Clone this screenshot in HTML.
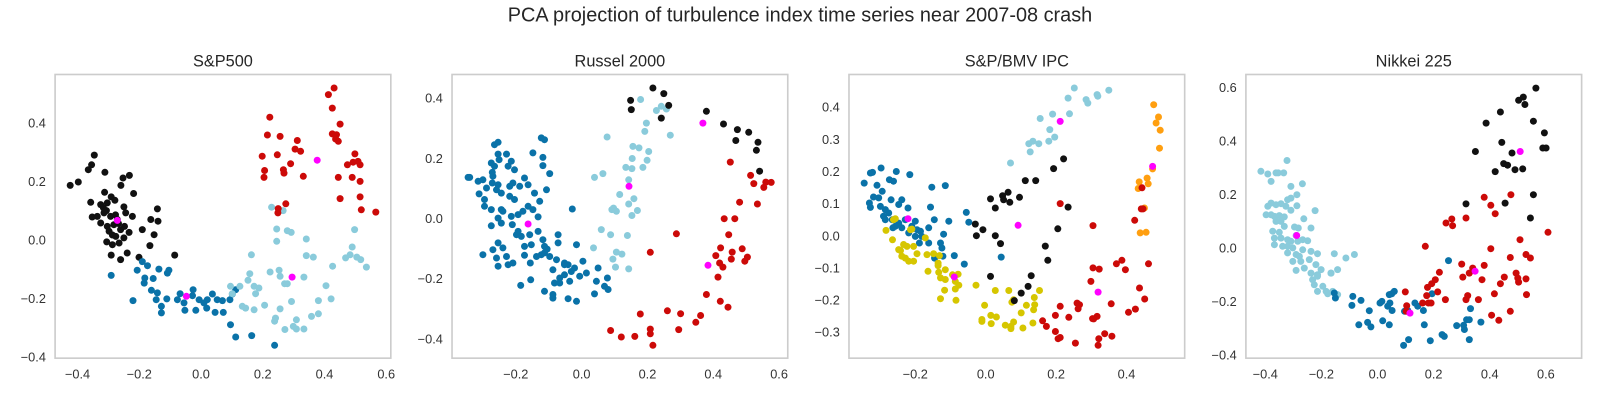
<!DOCTYPE html>
<html><head><meta charset="utf-8"><style>
html,body{margin:0;padding:0;background:#fff;}
svg{display:block;font-family:"Liberation Sans",sans-serif;}
</style></head><body>
<svg id="fig" width="1600" height="400" viewBox="0 0 1600 400" xmlns="http://www.w3.org/2000/svg">
<rect width="1600" height="400" fill="#fff"/>
<g id="layout" transform="scale(1.0204)">
<text x="784" y="21" font-size="19.5" fill="#262626" text-anchor="middle">PCA projection of turbulence index time series near 2007-08 crash</text>
</g>
</svg>
<script>
// ---- Panel titles and ticks ----
const panelTitles = ["S&P500", "Russel 2000", "S&P/BMV IPC", "Nikkei 225"];
const xTicks1 = [-0.4,-0.2,0.0,0.2,0.4,0.6];
const yTicks1 = [-0.4,-0.2,0.0,0.2,0.4];
const xTicks2 = [-0.2,0.0,0.2,0.4,0.6];
const yTicks2 = [-0.4,-0.2,0.0,0.2,0.4];
const xTicks3 = [-0.2,0.0,0.2,0.4];
const yTicks3 = [-0.3,-0.2,-0.1,0.0,0.1,0.2,0.3,0.4];
const xTicks4 = [-0.4,-0.2,0.0,0.2,0.4,0.6];
const yTicks4 = [-0.4,-0.2,0.0,0.2,0.4,0.6];

// ---- Panel 1: S&P500 ----
const p1Black = [[-0.42,0.173],[-0.393,0.185],[-0.36,0.228],[-0.349,0.245],[-0.34,0.279],[-0.305,0.219],[-0.245,0.199],[-0.224,0.208],[-0.252,0.173],[-0.21,0.145],[-0.306,0.149],[-0.284,0.133],[-0.272,0.121],[-0.352,0.114],[-0.319,0.106],[-0.297,0.112],[-0.242,0.098],[-0.347,0.063],[-0.33,0.065],[-0.308,0.077],[-0.286,0.065],[-0.264,0.054],[-0.236,0.077],[-0.214,0.065],[-0.319,0.042],[-0.297,0.03],[-0.275,0.036],[-0.253,0.019],[-0.225,0.009],[-0.291,0.013],[-0.269,-0.005],[-0.242,-0.01],[-0.258,-0.028],[-0.299,-0.024],[-0.28,-0.034],[-0.231,-0.063],[-0.253,-0.086],[-0.284,-0.07],[-0.181,0.019],[-0.153,0.054],[-0.156,-0.037],[-0.131,0.091],[-0.129,0.048],[-0.142,0.001],[-0.192,-0.078],[-0.074,-0.07],[-0.3,0.085],[-0.27,0.07],[-0.26,0.04],[-0.28,0.0],[-0.24,0.03],[-0.31,0.095]];
const p1DarkBlue = [[-0.284,-0.141],[-0.212,-0.229],[-0.198,-0.123],[-0.181,-0.093],[-0.164,-0.107],[-0.173,-0.15],[-0.175,-0.168],[-0.145,-0.152],[-0.126,-0.119],[-0.098,-0.133],[-0.093,-0.123],[-0.151,-0.193],[-0.131,-0.202],[-0.135,-0.226],[-0.1,-0.223],[-0.118,-0.249],[-0.118,-0.272],[-0.065,-0.226],[-0.056,-0.205],[-0.043,-0.237],[-0.013,-0.191],[-0.04,-0.263],[-0.004,-0.263],[0.007,-0.226],[0.023,-0.237],[0.032,-0.255],[0.051,-0.206],[0.067,-0.226],[0.084,-0.229],[0.06,-0.27],[0.087,-0.27],[0.109,-0.226],[0.128,-0.191],[0.111,-0.313],[0.128,-0.356],[0.181,-0.351],[0.257,-0.385],[0.117,-0.206],[0.034,-0.226],[-0.015,-0.212]];
const p1LightBlue = [[0.247,0.097],[0.285,0.085],[0.264,0.021],[0.299,0.015],[0.312,0.009],[0.264,-0.022],[0.362,-0.014],[0.362,-0.072],[0.385,-0.077],[0.522,0.019],[0.514,-0.042],[0.492,-0.08],[0.507,-0.069],[0.529,-0.077],[0.542,-0.086],[0.561,-0.112],[0.449,-0.109],[0.427,-0.177],[0.444,-0.223],[0.402,-0.229],[0.402,-0.275],[0.379,-0.284],[0.354,-0.328],[0.329,-0.328],[0.319,-0.319],[0.329,-0.296],[0.291,-0.33],[0.313,-0.232],[0.275,-0.258],[0.257,-0.301],[0.26,-0.29],[0.224,-0.245],[0.189,-0.261],[0.15,-0.249],[0.161,-0.255],[0.18,-0.069],[0.175,-0.135],[0.169,-0.158],[0.142,-0.179],[0.111,-0.179],[0.189,-0.179],[0.205,-0.185],[0.194,-0.205],[0.117,-0.205],[0.242,-0.129],[0.272,-0.123],[0.275,-0.144],[0.29,-0.17],[0.299,-0.17],[0.354,-0.147]];
const p1Red = [[0.454,0.513],[0.435,0.49],[0.448,0.443],[0.474,0.387],[0.448,0.353],[0.462,0.35],[0.459,0.335],[0.468,0.327],[0.241,0.411],[0.233,0.349],[0.275,0.344],[0.332,0.33],[0.325,0.3],[0.343,0.292],[0.266,0.28],[0.216,0.275],[0.224,0.225],[0.222,0.201],[0.286,0.228],[0.288,0.216],[0.31,0.249],[0.352,0.205],[0.523,0.283],[0.498,0.245],[0.517,0.254],[0.533,0.257],[0.54,0.245],[0.468,0.201],[0.514,0.201],[0.54,0.187],[0.474,0.127],[0.54,0.133],[0.544,0.088],[0.592,0.08],[0.294,0.109],[0.269,0.092],[0.268,0.077]];
const p1Centers = [[-0.264,0.051],[-0.035,-0.214],[0.315,-0.147],[0.398,0.261]];

// ---- Panel 2: Russel 2000 ----
const p2DarkBlue = [[-0.316,0.124],[-0.311,0.124],[-0.282,0.068],[-0.27,0.116],[-0.265,0.026],[-0.265,0.049],[-0.241,0.141],[-0.241,0.105],[-0.239,0.128],[-0.234,0.235],[-0.223,0.243],[-0.244,0.173],[-0.234,0.162],[-0.22,0.184],[-0.197,0.203],[-0.223,0.203],[-0.192,0.162],[-0.182,0.179],[-0.172,0.15],[-0.187,0.094],[-0.177,0.105],[-0.156,0.094],[-0.213,0.071],[-0.228,0.082],[-0.244,0.015],[-0.213,0.015],[-0.208,0.009],[-0.187,0.06],[-0.172,0.049],[-0.141,0.122],[-0.13,0.099],[-0.11,0.071],[-0.094,0.043],[-0.115,0.015],[-0.13,0.026],[-0.146,0.009],[-0.161,-0.002],[-0.182,-0.008],[-0.223,-0.014],[-0.244,-0.04],[-0.213,-0.031],[-0.179,-0.036],[-0.166,-0.07],[-0.151,-0.076],[-0.125,-0.07],[-0.099,-0.059],[-0.084,-0.087],[-0.079,-0.11],[-0.063,-0.144],[-0.042,-0.155],[-0.037,-0.098],[-0.037,-0.07],[-0.12,-0.104],[-0.141,-0.11],[-0.223,-0.098],[-0.239,-0.121],[-0.27,-0.138],[-0.208,-0.115],[-0.197,-0.144],[-0.228,-0.149],[-0.223,-0.177],[-0.192,-0.172],[-0.177,-0.166],[-0.141,-0.14],[-0.123,-0.166],[-0.104,-0.144],[-0.089,-0.138],[-0.017,-0.166],[-0.006,-0.172],[0.014,-0.183],[0.04,-0.16],[0.051,-0.2],[0.03,-0.211],[-0.001,-0.228],[-0.032,-0.217],[-0.048,-0.234],[-0.032,-0.234],[-0.079,-0.262],[-0.053,-0.273],[-0.053,-0.285],[-0.006,-0.287],[0.02,-0.296],[0.082,-0.228],[0.076,-0.271],[0.107,-0.245],[0.118,-0.256],[0.116,-0.217],[0.087,-0.183],[-0.122,-0.223],[-0.153,-0.242],[0.02,-0.104],[0.007,0.017],[-0.115,0.207],[-0.084,0.192],[-0.089,0.258],[-0.079,0.252],[-0.084,0.164],[-0.063,0.137],[-0.073,0.082],[-0.099,-0.01],[-0.161,-0.059],[-0.071,-0.119],[-0.017,-0.172],[0.004,-0.195],[-0.017,-0.206],[-0.053,-0.189],[-0.079,-0.132],[-0.285,0.111],[-0.259,0.088],[-0.223,0.099]];
const p2LightBlue = [[0.219,0.388],[0.268,0.351],[0.283,0.365],[0.299,0.356],[0.237,0.308],[0.232,0.28],[0.311,0.267],[0.115,0.261],[0.195,0.229],[0.214,0.224],[0.244,0.212],[0.193,0.188],[0.239,0.182],[0.173,0.158],[0.192,0.154],[0.226,0.158],[0.102,0.137],[0.076,0.124],[0.182,0.116],[0.154,0.066],[0.198,0.052],[0.182,0.034],[0.209,0.012],[0.13,0.015],[0.135,0.02],[0.144,0.009],[0.192,-0.005],[0.097,-0.053],[0.126,-0.07],[0.178,-0.073],[0.073,-0.115],[0.144,-0.129],[0.161,-0.136],[0.133,-0.153],[0.141,-0.18],[0.182,-0.186]];
const p2Black = [[0.257,0.427],[0.291,0.408],[0.188,0.385],[0.19,0.354],[0.306,0.368],[0.283,0.325],[0.423,0.348],[0.476,0.305],[0.519,0.286],[0.554,0.277],[0.514,0.249],[0.583,0.243],[0.578,0.216],[0.588,0.145]];
const p2Red = [[0.497,0.176],[0.56,0.131],[0.57,0.103],[0.601,0.09],[0.607,0.108],[0.624,0.107],[0.526,0.04],[0.581,0.034],[0.478,-0.016],[0.511,-0.016],[0.492,-0.07],[0.33,-0.067],[0.249,-0.13],[0.467,-0.115],[0.503,-0.129],[0.534,-0.118],[0.452,-0.141],[0.5,-0.153],[0.55,-0.146],[0.542,-0.16],[0.464,-0.166],[0.474,-0.18],[0.459,-0.214],[0.423,-0.273],[0.466,-0.296],[0.49,-0.316],[0.405,-0.344],[0.39,-0.367],[0.343,-0.338],[0.302,-0.328],[0.337,-0.392],[0.218,-0.339],[0.249,-0.39],[0.249,-0.406],[0.257,-0.445],[0.126,-0.395],[0.159,-0.417],[0.201,-0.415]];
const p2Centers = [[-0.13,-0.034],[0.183,0.094],[0.412,0.308],[0.428,-0.174]];

// ---- Panel 3: S&P/BMV IPC ----
const p3DarkBlue = [[-0.295,0.152],[-0.277,0.184],[-0.271,0.186],[-0.246,0.2],[-0.202,0.189],[-0.163,0.179],[-0.258,0.145],[-0.243,0.126],[-0.222,0.163],[-0.21,0.158],[-0.268,0.108],[-0.253,0.105],[-0.28,0.089],[-0.277,0.075],[-0.248,0.078],[-0.234,0.068],[-0.217,0.099],[-0.186,0.099],[-0.195,0.084],[-0.168,0.073],[-0.239,0.047],[-0.224,0.057],[-0.214,0.036],[-0.195,0.025],[-0.176,0.036],[-0.147,0.031],[-0.234,0.036],[-0.205,0.015],[-0.186,0.01],[-0.157,0.015],[-0.142,0.004],[-0.132,-0.001],[-0.147,-0.017],[-0.128,-0.017],[-0.108,0.01],[-0.103,0.076],[-0.099,0.139],[-0.06,0.144],[-0.092,0.036],[-0.05,0.031],[-0.065,-0.01],[-0.135,-0.038],[-0.108,-0.038],[-0.074,-0.038],[-0.07,-0.054],[-0.091,-0.086],[-0.067,-0.08],[-0.034,-0.078],[-0.005,-0.105],[0.001,0.059],[0.008,0.028],[0.102,-0.083],[-0.212,0.01],[-0.166,-0.006]];
const p3Yellow = [[-0.232,0.002],[-0.213,-0.028],[-0.21,0.036],[-0.205,0.039],[-0.195,-0.059],[-0.181,-0.043],[-0.19,-0.062],[-0.171,-0.049],[-0.186,-0.08],[-0.176,-0.086],[-0.166,-0.096],[-0.152,-0.049],[-0.152,-0.096],[-0.142,-0.072],[-0.161,0.004],[-0.157,0.006],[-0.118,-0.022],[-0.113,-0.075],[-0.094,-0.072],[-0.081,-0.102],[-0.081,-0.11],[-0.077,-0.078],[-0.11,-0.128],[-0.079,-0.131],[-0.06,-0.123],[-0.074,-0.149],[-0.06,-0.154],[-0.039,-0.139],[-0.023,-0.137],[-0.031,-0.16],[-0.021,-0.172],[-0.031,-0.184],[-0.062,-0.188],[-0.074,-0.215],[-0.029,-0.22],[0.029,-0.172],[0.054,-0.236],[0.085,-0.189],[0.124,-0.189],[0.133,-0.226],[0.138,-0.218],[0.198,-0.211],[0.213,-0.189],[0.199,-0.234],[0.196,-0.25],[0.175,-0.236],[0.16,-0.26],[0.046,-0.281],[0.046,-0.287],[0.072,-0.268],[0.088,-0.273],[0.073,-0.294],[0.114,-0.299],[0.13,-0.303],[0.138,-0.289],[0.165,-0.308],[0.194,-0.292],[0.13,-0.31]];
const p3LightBlue = [[0.314,0.454],[0.296,0.422],[0.348,0.417],[0.353,0.406],[0.38,0.433],[0.382,0.428],[0.414,0.447],[0.215,0.357],[0.251,0.371],[0.3,0.372],[0.243,0.322],[0.257,0.298],[0.24,0.285],[0.182,0.277],[0.194,0.285],[0.211,0.277],[0.186,0.251],[0.129,0.216]];
const p3Black = [[0.283,0.229],[0.254,0.198],[0.172,0.16],[0.202,0.16],[0.122,0.123],[0.106,0.112],[0.109,0.099],[0.127,0.091],[0.155,0.107],[0.071,0.102],[0.085,0.073],[0.296,0.076],[0.027,0.022],[0.049,0.004],[0.03,-0.015],[0.085,-0.015],[0.1,-0.04],[0.266,0.007],[0.23,-0.048],[0.237,-0.093],[0.071,-0.144],[0.189,-0.142],[0.18,-0.176],[0.16,-0.197],[0.14,-0.221]];
const p3Orange = [[0.544,0.401],[0.558,0.362],[0.551,0.343],[0.563,0.32],[0.561,0.263],[0.541,0.197],[0.525,0.168],[0.502,0.156],[0.528,0.15],[0.499,0.135],[0.517,0.073],[0.505,-0.006],[0.522,-0.004]];
const p3Red = [[0.51,0.137],[0.508,0.07],[0.513,0.07],[0.489,0.034],[0.273,0.087],[0.368,0.017],[0.529,-0.104],[0.452,-0.093],[0.436,-0.104],[0.462,-0.123],[0.368,-0.117],[0.386,-0.121],[0.362,-0.16],[0.503,-0.181],[0.518,-0.216],[0.421,-0.231],[0.491,-0.248],[0.471,-0.258],[0.273,-0.239],[0.322,-0.229],[0.329,-0.234],[0.325,-0.247],[0.259,-0.268],[0.298,-0.274],[0.222,-0.285],[0.233,-0.303],[0.259,-0.319],[0.317,-0.356],[0.367,-0.278],[0.38,-0.271],[0.37,-0.279],[0.402,-0.326],[0.423,-0.334],[0.385,-0.342],[0.383,-0.363],[0.267,-0.342],[0.273,-0.338]];
const p3Centers = [[-0.168,0.039],[-0.034,-0.146],[0.273,0.348],[0.151,0.018],[0.541,0.205],[0.383,-0.194]];

// ---- Panel 4: Nikkei 225 ----
const p4LightBlue = [[-0.324,0.278],[-0.299,0.268],[-0.287,0.24],[-0.269,0.272],[-0.261,0.272],[-0.241,0.272],[-0.229,0.319],[-0.173,0.231],[-0.215,0.221],[-0.193,0.19],[-0.215,0.177],[-0.227,0.171],[-0.299,0.146],[-0.287,0.158],[-0.269,0.152],[-0.251,0.156],[-0.233,0.146],[-0.193,0.148],[-0.305,0.114],[-0.287,0.114],[-0.275,0.108],[-0.257,0.111],[-0.239,0.106],[-0.215,0.131],[-0.251,0.089],[-0.269,0.089],[-0.239,0.07],[-0.281,0.052],[-0.257,0.048],[-0.202,0.068],[-0.188,0.064],[-0.142,0.064],[-0.168,0.099],[-0.127,0.13],[-0.196,0.036],[-0.275,0.026],[-0.251,0.026],[-0.227,0.02],[-0.215,0.014],[-0.19,0.014],[-0.172,0.02],[-0.154,0.016],[-0.275,0.001],[-0.245,-0.005],[-0.227,-0.005],[-0.208,-0.011],[-0.172,-0.018],[-0.142,-0.024],[-0.227,-0.03],[-0.196,-0.036],[-0.184,-0.043],[-0.208,-0.062],[-0.179,-0.062],[-0.148,-0.055],[-0.124,-0.074],[-0.118,-0.033],[-0.057,-0.033],[-0.015,-0.049],[0.016,-0.036],[-0.045,-0.093],[-0.069,-0.106],[-0.196,-0.096],[-0.166,-0.087],[-0.142,-0.106],[-0.136,-0.131],[-0.118,-0.112],[-0.13,-0.15],[-0.099,-0.156],[-0.118,-0.175],[-0.087,-0.175],[-0.063,-0.175],[-0.069,-0.106],[-0.045,-0.187],[-0.081,-0.184],[-0.118,-0.118],[-0.105,-0.093]];
const p4DarkBlue = [[-0.057,-0.181],[-0.053,-0.2],[0.01,-0.194],[0.007,-0.228],[0.04,-0.209],[0.07,-0.248],[0.032,-0.301],[0.064,-0.292],[0.076,-0.309],[0.109,-0.219],[0.116,-0.213],[0.119,-0.286],[0.137,-0.231],[0.145,-0.219],[0.153,-0.247],[0.143,-0.301],[0.143,-0.187],[0.152,-0.184],[0.161,-0.175],[0.198,-0.25],[0.21,-0.247],[0.236,-0.219],[0.246,-0.231],[0.267,-0.247],[0.27,-0.301],[0.292,-0.361],[0.213,-0.357],[0.195,-0.379],[0.298,-0.184],[0.358,-0.059],[0.335,-0.338],[0.343,-0.345],[0.388,-0.304],[0.416,-0.319],[0.413,-0.303],[0.424,-0.282],[0.434,-0.282],[0.438,-0.24],[0.476,-0.291],[0.434,-0.357]];
const p4Red = [[0.201,-0.177],[0.206,-0.229],[0.204,-0.25],[0.264,-0.219],[0.279,-0.191],[0.285,-0.219],[0.295,-0.219],[0.282,-0.16],[0.297,-0.146],[0.31,-0.131],[0.325,-0.103],[0.319,-0.177],[0.347,-0.206],[0.274,-0.005],[0.349,0.083],[0.37,0.098],[0.373,0.073],[0.422,0.102],[0.406,-0.072],[0.41,-0.121],[0.434,-0.106],[0.446,-0.087],[0.488,-0.077],[0.48,-0.131],[0.422,-0.206],[0.428,-0.191],[0.467,-0.206],[0.512,-0.014],[0.488,0.18],[0.512,0.15],[0.528,0.118],[0.585,0.19],[0.618,0.02],[0.583,-0.047],[0.64,-0.036],[0.656,-0.049],[0.604,-0.106],[0.61,-0.125],[0.613,-0.14],[0.64,-0.128],[0.561,-0.121],[0.547,-0.146],[0.525,-0.184],[0.642,-0.187],[0.583,-0.25],[0.515,-0.265],[0.541,-0.284],[0.72,0.048]];
const p4Black = [[0.676,0.592],[0.613,0.546],[0.63,0.558],[0.636,0.53],[0.547,0.502],[0.495,0.46],[0.667,0.467],[0.707,0.423],[0.552,0.387],[0.701,0.366],[0.713,0.366],[0.456,0.353],[0.589,0.347],[0.559,0.307],[0.573,0.301],[0.528,0.277],[0.6,0.284],[0.628,0.287],[0.667,0.19],[0.564,0.158],[0.422,0.155],[0.656,0.102]];
const p4Centers = [[-0.194,0.036],[0.218,-0.257],[0.455,-0.099],[0.619,0.353]];

const C = {dark:"#0a72a8", light:"#8acbdb", red:"#cc0a08", black:"#111111", yellow:"#d6c600", orange:"#ff9f10", mag:"#ff00ff"};
const NS = "http://www.w3.org/2000/svg";
const svg = document.getElementById("fig");
const layout = document.getElementById("layout");
const S = 1600/1568;
function mk(tag, attrs, parent){const e=document.createElementNS(NS,tag);for(const k in attrs)e.setAttribute(k,attrs[k]);(parent||svg).appendChild(e);return e;}
function fmt(v){const s=Math.abs(v).toFixed(1);return (v<-1e-9?"\u2212":"")+s;}

const panels = [
 {left:54, x0:197, sx:302, y0:235, sy:286.5, tx0:197, tsx:302.5, ty0:235, tsy:286.5, xt:xTicks1, yt:yTicks1,
  series:[["black",p1Black,C.black],["dark-blue",p1DarkBlue,C.dark],["light-blue",p1LightBlue,C.light],["red",p1Red,C.red]], centers:p1Centers},
 {left:443, x0:570, sx:322.5, y0:214, sy:295, tx0:570, tsx:322.5, ty0:214, tsy:295, xt:xTicks2, yt:yTicks2,
  series:[["dark-blue",p2DarkBlue,C.dark],["light-blue",p2LightBlue,C.light],["black",p2Black,C.black],["red",p2Red,C.red]], centers:p2Centers},
 {left:832, x0:966, sx:345, y0:231, sy:315, tx0:966, tsx:345, ty0:231, tsy:315, xt:xTicks3, yt:yTicks3,
  series:[["dark-blue",p3DarkBlue,C.dark],["yellow",p3Yellow,C.yellow],["light-blue",p3LightBlue,C.light],["black",p3Black,C.black],["orange",p3Orange,C.orange],["red",p3Red,C.red]], centers:p3Centers},
 {left:1221, x0:1350, sx:275, y0:245, sy:265, tx0:1350, tsx:275, ty0:243, tsy:262.5, xt:xTicks4, yt:yTicks4,
  series:[["light-blue",p4LightBlue,C.light],["dark-blue",p4DarkBlue,C.dark],["red",p4Red,C.red],["black",p4Black,C.black]], centers:p4Centers}
];
const TOP=73, W=329, H=278;

panels.forEach((p,i)=>{
  // axis functions for marks (full-resolution pixel space)
  const xs = v => p.x0 + p.sx*v;
  const ys = v => p.y0 - p.sy*v;
  // axis functions for tick labels (layout group space)
  const txs = v => p.tx0 + p.tsx*v;
  const tys = v => p.ty0 - p.tsy*v;
  const g = mk("g",{}, layout);
  
  
  const t = mk("text",{x:p.left+W/2, y:65, "font-size":16, fill:"#262626", "text-anchor":"middle"}, g);
  t.textContent = panelTitles[i];
  
  
  p.xt.forEach(v=>{
    const tx = mk("text",{x:txs(v), y:TOP+H+20, "font-size":12.5, fill:"#333", "text-anchor":"middle"}, g);
    tx.textContent = fmt(v);
    
    
  });
  p.yt.forEach(v=>{
    const ty = mk("text",{x:p.left-9, y:tys(v)+4.5, "font-size":12.5, fill:"#333", "text-anchor":"end"}, g);
    ty.textContent = fmt(v);
    
    
  });
  const cid = "clip"+i;
  const cp = mk("clipPath",{id:cid});
  mk("rect",{x:p.left*S, y:TOP*S, width:W*S, height:H*S}, cp);
  const pts = mk("g",{"clip-path":"url(#"+cid+")"});
  
  
  p.series.forEach(s=>{
    const sg = mk("g",{fill:s[2]}, pts);
    
    
    s[1].forEach(d=>{
      const c = mk("circle",{cx:xs(d[0]).toFixed(1), cy:ys(d[1]).toFixed(1), r:3.5}, sg);
      
      
    });
  });
  const cg = mk("g",{fill:C.mag}, pts);
  
  
  p.centers.forEach(d=>{
    const c = mk("circle",{cx:xs(d[0]).toFixed(1), cy:ys(d[1]).toFixed(1), r:3.5}, cg);
    
    
  });
  const fr = mk("rect",{x:p.left, y:TOP, width:W, height:H, fill:"none", stroke:"#cccccc", "stroke-width":1.6}, g);
  
  
});
</script>
</body></html>
